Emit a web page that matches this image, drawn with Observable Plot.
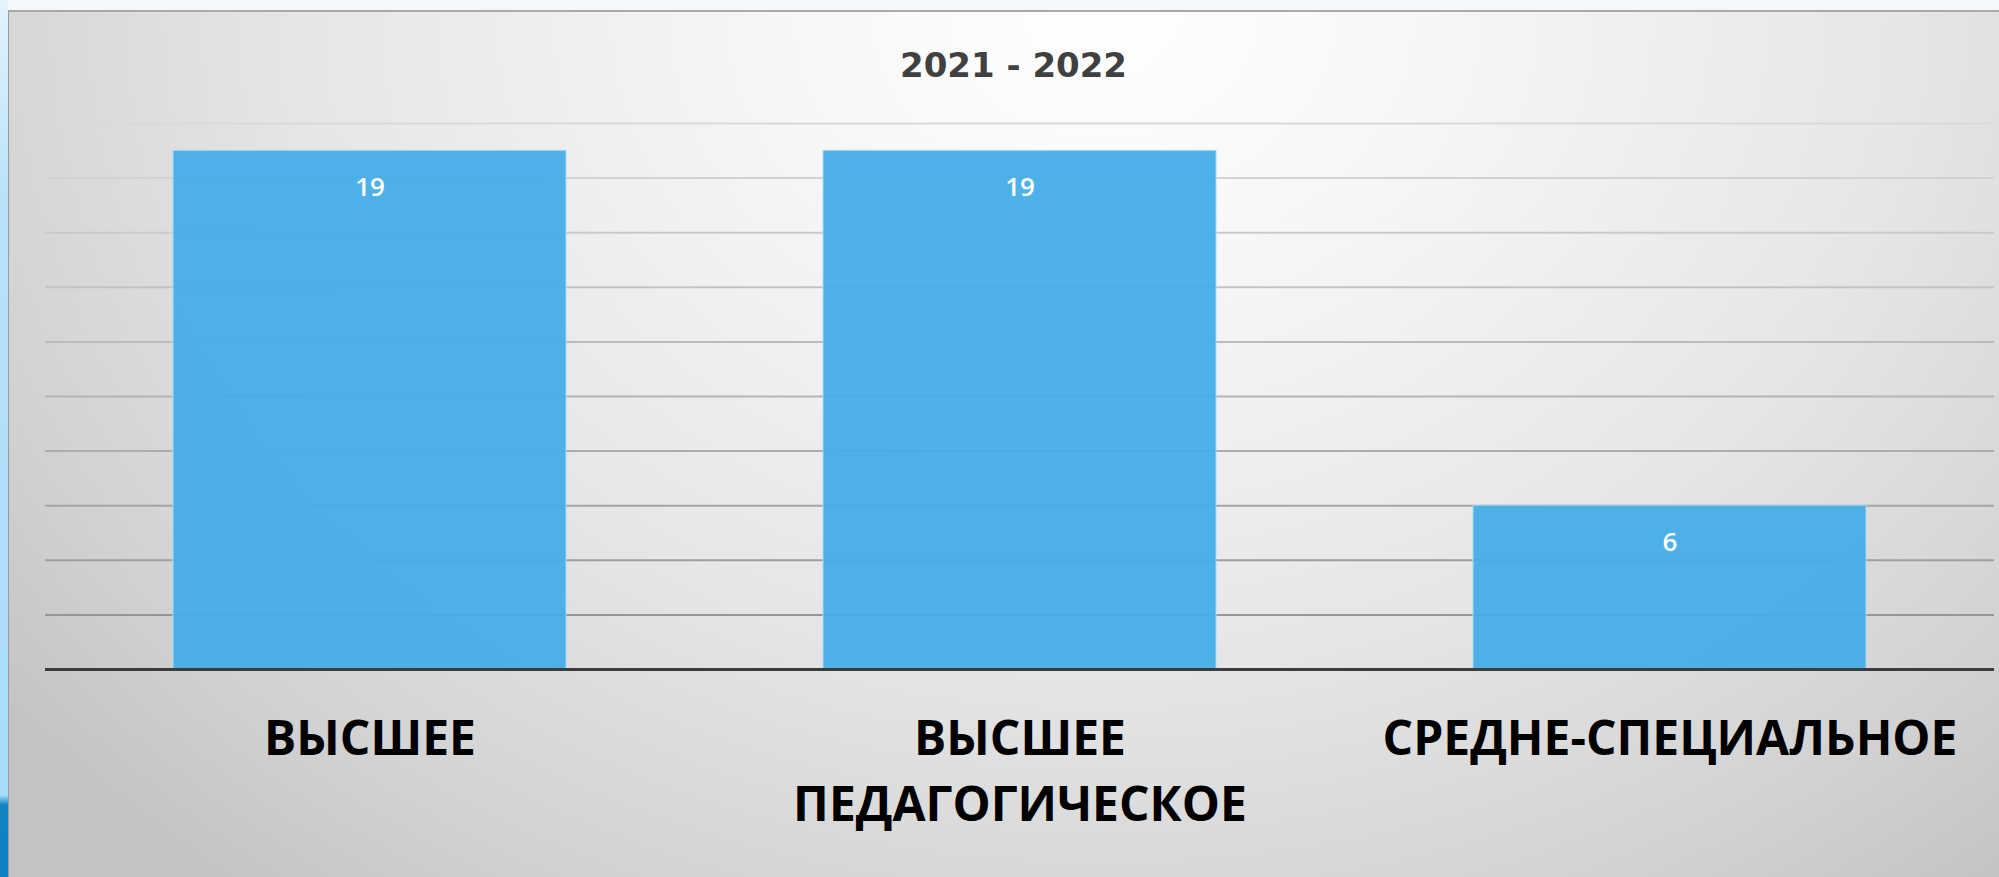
<!DOCTYPE html>
<html>
<head>
<meta charset="utf-8">
<script src="https://cdn.jsdelivr.net/npm/d3@7"></script>
<script src="https://cdn.jsdelivr.net/npm/@observablehq/plot@0.6"></script>
<style>
  html, body { margin: 0; padding: 0; }
  body { width: 1999px; height: 877px; background: #f3f9fd; position: relative; overflow: hidden; }
  #strip { position: absolute; left: 0; top: 0; width: 8px; height: 877px;
    background: linear-gradient(to bottom, #e4f3fc 0px, #b9e2f9 200px, #a9dcf8 795px, #1182c4 805px, #0f7fc0 877px); }
  #panel { position: absolute; left: 8px; top: 10px; width: 1991px; height: 867px;
    border-top: 2px solid #a9a9a9; border-left: 1px solid #9a9a9a; box-sizing: border-box;
    background: radial-gradient(ellipse 70% 130% at 55% 0%, #ffffff 0%, #f6f6f6 25%, #e6e6e6 58%, #d2d2d2 85%, #c4c4c4 100%); }
  #title { position: absolute; left: 14px; width: 1999px; top: 43px; text-align: center;
    font-family: "DejaVu Sans", Verdana, sans-serif; font-weight: bold; font-size: 34px; color: #404040; line-height: 44px; }
  #chart { position: absolute; left: 0; top: 0; }
  #chart svg { background: transparent !important; }
</style>
</head>
<body>
<div id="strip"></div>
<div id="panel"></div>
<div id="title">2021 - 2022</div>
<div id="chart"></div>
<script>
const categories = ["ВЫСШЕЕ", "ВЫСШЕЕ\nПЕДАГОГИЧЕСКОЕ", "СРЕДНЕ-СПЕЦИАЛЬНОЕ"];
const values = [19, 19, 6];
const yMax = 20;
const gridStep = 2;

const data = categories.map((c, i) => ({category: c, value: values[i]}));

const chart = Plot.plot({
  width: 1999,
  height: 877,
  marginLeft: 45,
  marginRight: 5,
  marginTop: 123,
  marginBottom: 208,
  style: {background: "transparent", overflow: "visible"},
  x: {domain: categories, paddingInner: 0.396, paddingOuter: 0.196, label: null},
  y: {domain: [0, yMax], label: null},
  marks: [
    Plot.gridY({interval: gridStep, stroke: d => d3.interpolateRgb("#8f8f8f", "#d9d9d9")(d / yMax), strokeOpacity: 1, strokeWidth: 2}),
    Plot.barY(data, {x: "category", y: "value", fill: "#45adE6", fillOpacity: 0.95, stroke: "#a8dbf6", strokeWidth: 1}),
    Plot.ruleY([0], {stroke: "#3c3c3c", strokeWidth: 3}),
    Plot.text(data, {x: "category", y: "value", text: d => String(d.value), dy: 37, fill: "white",
      fontSize: 26, fontWeight: 600, fontFamily: "Open Sans"}),
    Plot.axisX({tickSize: 0, tickPadding: 38, fontSize: 48, fontWeight: "bold", fontFamily: "Open Sans",
      fill: "black", lineHeight: 1.38, lineAnchor: "top"}),
    Plot.axisY({ticks: []})
  ]
});
document.getElementById("chart").appendChild(chart);
</script>
</body>
</html>
